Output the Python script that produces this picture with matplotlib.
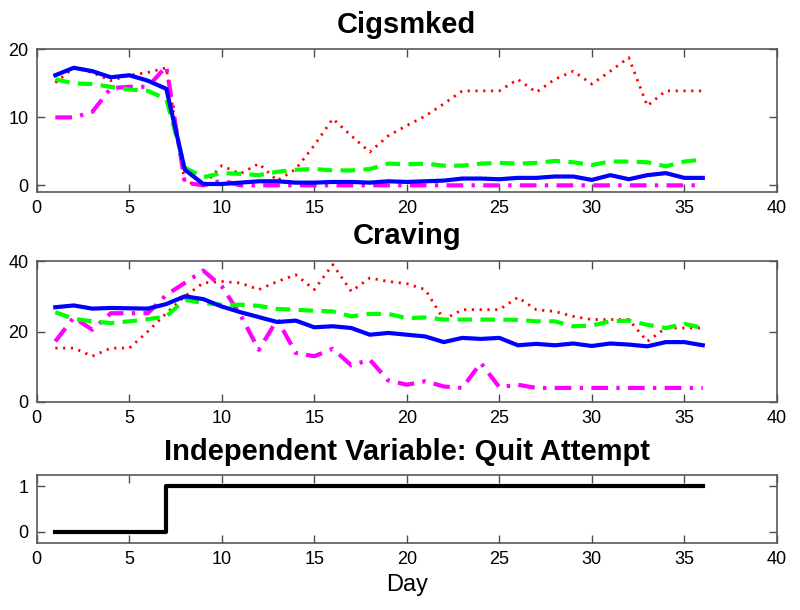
import matplotlib
matplotlib.use('Agg')
import matplotlib.pyplot as plt
import numpy as np

plt.rcParams['font.family'] = ['Liberation Sans', 'DejaVu Sans']

days = list(range(1, 37))

# Cigsmked panel
cig_blue = [16.2, 17.3, 16.8, 15.9, 16.2, 15.4, 14.2, 2.3, 0.2, 0.2, 0.4, 0.6,
            0.6, 0.4, 0.4, 0.5, 0.5, 0.4, 0.6, 0.5, 0.6, 0.7, 1.0, 1.0,
            0.9, 1.1, 1.1, 1.3, 1.3, 0.8, 1.5, 0.9, 1.5, 1.8, 1.1, 1.1]
cig_green = [15.6, 15.0, 14.9, 14.5, 14.1, 13.9, 12.7, 2.6, 1.2, 1.8, 1.7, 1.5,
             2.0, 2.3, 2.4, 2.2, 2.2, 2.4, 3.2, 3.1, 3.2, 2.9, 2.9, 3.2,
             3.3, 3.2, 3.3, 3.6, 3.4, 3.0, 3.5, 3.5, 3.4, 2.8, 3.5, 3.8]
cig_magenta = [10.0, 10.0, 10.8, 14.3, 14.5, 14.5, 17.5, 0.4, 0.0, 0.7, 0.0, 0.0,
               0.0, 0.0, 0.0, 0.0, 0.0, 0.0, 0.0, 0.0, 0.0, 0.0, 0.0, 0.0,
               0.0, 0.0, 0.0, 0.0, 0.0, 0.0, 0.0, 0.0, 0.0, 0.0, 0.0, 0.0]
cig_red = [15.1, 17.3, 16.6, 15.4, 16.2, 16.6, 17.3, 0.5, 0.0, 2.9, 1.7, 3.2,
           0.7, 2.4, 5.9, 9.8, 7.3, 4.9, 7.3, 8.8, 10.2, 12.0, 13.9, 13.9,
           13.9, 15.6, 13.7, 15.6, 16.8, 14.9, 16.8, 18.8, 11.7, 13.9, 13.9, 13.9]

# Craving panel
crv_blue = [26.9, 27.4, 26.5, 26.7, 26.6, 26.5, 27.8, 30.0, 29.2, 27.1, 25.5, 24.1,
            22.7, 23.1, 21.2, 21.5, 21.0, 19.1, 19.6, 19.1, 18.6, 17.0, 18.2, 17.9,
            18.2, 16.1, 16.5, 16.1, 16.6, 15.9, 16.6, 16.3, 15.8, 17.0, 17.0, 16.1]
crv_green = [25.5, 23.6, 22.9, 22.4, 22.9, 23.5, 24.3, 29.0, 28.1, 27.6, 27.6, 27.3,
             26.4, 26.2, 25.9, 25.7, 24.3, 25.0, 25.0, 23.8, 24.0, 23.4, 23.4, 23.4,
             23.4, 23.3, 22.9, 22.9, 21.5, 21.7, 22.9, 23.1, 21.9, 21.0, 22.2, 21.0]
crv_magenta = [17.2, 24.0, 20.5, 25.2, 25.2, 25.2, 30.4, 33.8, 37.3, 32.8, 24.8, 14.8,
               23.4, 13.9, 13.0, 15.1, 10.4, 12.0, 6.1, 4.9, 5.9, 4.4, 4.0, 11.1,
               4.2, 4.9, 4.0, 4.0, 4.0, 4.0, 4.0, 4.0, 4.0, 4.0, 4.0, 4.0]
crv_red = [15.3, 15.3, 13.0, 15.3, 15.3, 20.0, 25.2, 30.0, 33.8, 34.2, 33.8, 31.9,
           34.2, 36.1, 31.9, 39.0, 31.4, 35.2, 34.2, 33.6, 31.9, 23.4, 26.2, 26.2,
           26.2, 29.7, 26.2, 25.7, 24.3, 23.4, 23.4, 23.4, 17.2, 21.0, 21.0, 21.0]

# Quit attempt
quit = [0] * 6 + [1] * 30

xticks = [0, 5, 10, 15, 20, 25, 30, 35, 40]


def style(ax, yticks, ylim):
    ax.set_xlim(0, 40)
    ax.set_ylim(*ylim)
    ax.set_xticks(xticks)
    ax.set_yticks(yticks)
    ax.tick_params(direction='in', length=6, width=1, color='0.3',
                   top=True, right=True, labelsize=13, pad=6)
    for s in ax.spines.values():
        s.set_color('0.35')
        s.set_linewidth(1.2)


fig = plt.figure(figsize=(8, 6.1), dpi=100)
ax1 = fig.add_axes([0.046, 0.685, 0.925, 0.234])
ax2 = fig.add_axes([0.046, 0.341, 0.925, 0.231])
ax3 = fig.add_axes([0.046, 0.110, 0.925, 0.111])

for ax, b, g, m, r in [(ax1, cig_blue, cig_green, cig_magenta, cig_red),
                       (ax2, crv_blue, crv_green, crv_magenta, crv_red)]:
    ax.plot(days, r, color='#ff0000', lw=2, ls=(0, (0.8, 2)))
    ax.plot(days, m, color='#ff00ff', lw=3, ls=(0, (4, 2, 0.8, 2)))
    ax.plot(days, g, color='#00ff00', lw=3, ls=(0, (3.5, 2)))
    ax.plot(days, b, color='#0000ff', lw=3)

style(ax1, [0, 10, 20], (-1, 20))
style(ax2, [0, 20, 40], (0, 40))
ax1.set_title('Cigsmked', fontsize=21, fontweight='bold', pad=12)
ax2.set_title('Craving', fontsize=21, fontweight='bold', pad=12)

ax3.plot(days, quit, color='black', lw=3, drawstyle='steps-post')
style(ax3, [0, 1], (-0.25, 1.25))
ax3.set_title('Independent Variable: Quit Attempt', fontsize=21,
              fontweight='bold', pad=11)
ax3.set_xlabel('Day', fontsize=17, labelpad=4)

fig.savefig('out.png', dpi=100)
